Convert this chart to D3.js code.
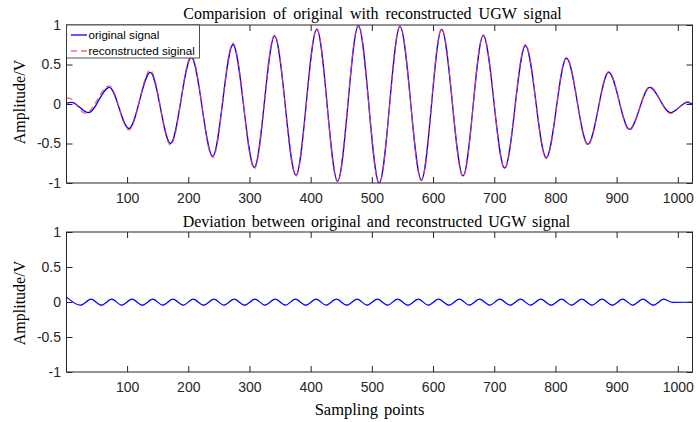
<!DOCTYPE html>
<html>
<head>
<meta charset="utf-8">
<script src="https://cdn.jsdelivr.net/npm/d3@7"></script>
<style>
  html, body { margin: 0; padding: 0; background: #fff; }
  svg { display: block; }
  .tick text { font-family: "Liberation Sans", Arial, sans-serif; font-size: 14px; fill: #262626; }
  .serif { font-family: "Liberation Serif", "Times New Roman", serif; fill: #000; }
</style>
</head>
<body>
<svg id="fig" width="697" height="422"></svg>
<script>
// Sample positions and amplitudes at the turning points of each waveform
const origX = [1, 9, 37, 71, 103, 138, 171, 205, 240, 273, 308, 341, 376, 410, 444, 478, 512, 546, 581, 614, 649, 682, 717, 751, 785, 818, 853, 887, 921, 954, 988, 1016, 1024];
const origY = [0.01, 0.02, -0.11, 0.21, -0.31, 0.40, -0.50, 0.59, -0.66, 0.75, -0.80, 0.86, -0.90, 0.945, -0.975, 0.99, -1.0, 0.98, -0.96, 0.945, -0.91, 0.865, -0.81, 0.74, -0.68, 0.58, -0.51, 0.40, -0.32, 0.21, -0.11, 0.02, 0.0];

const recX = [1, 5, 32, 71, 103, 138, 171, 205, 240, 273, 308, 341, 376, 410, 444, 478, 512, 546, 581, 614, 649, 682, 717, 751, 785, 818, 853, 887, 921, 954, 988, 1016, 1024];
const recY = [0.07, 0.075, -0.12, 0.23, -0.33, 0.43, -0.52, 0.61, -0.68, 0.77, -0.82, 0.875, -0.915, 0.955, -0.985, 1.0, -1.01, 0.99, -0.97, 0.955, -0.92, 0.875, -0.82, 0.755, -0.69, 0.59, -0.52, 0.41, -0.335, 0.22, -0.12, 0.03, 0.02];

const devX = [1, 24, 41, 58, 75, 91, 108, 125, 142, 158, 175, 192, 208, 225, 242, 258, 275, 292, 309, 325, 342, 359, 375, 392, 409, 425, 442, 459, 476, 492, 509, 526, 542, 559, 576, 592, 609, 626, 643, 659, 676, 693, 709, 726, 743, 759, 776, 793, 810, 826, 843, 860, 876, 893, 910, 926, 943, 960, 977, 991, 1024];
const devY = [0.07, -0.045, 0.04, -0.045, 0.04, -0.045, 0.04, -0.045, 0.04, -0.045, 0.04, -0.045, 0.04, -0.045, 0.04, -0.045, 0.04, -0.045, 0.04, -0.045, 0.04, -0.045, 0.04, -0.045, 0.04, -0.045, 0.04, -0.045, 0.04, -0.045, 0.04, -0.045, 0.04, -0.045, 0.04, -0.045, 0.04, -0.045, 0.04, -0.045, 0.04, -0.045, 0.04, -0.045, 0.04, -0.045, 0.04, -0.045, 0.04, -0.045, 0.04, -0.045, 0.04, -0.045, 0.04, -0.045, 0.04, -0.045, 0.04, -0.005, 0.0];

const xTicks = [100, 200, 300, 400, 500, 600, 700, 800, 900, 1000];
const xTickLabels = ["100", "200", "300", "400", "500", "600", "700", "800", "900", "1000"];
const yTicks = [-1, -0.5, 0, 0.5, 1];
const yTickLabels = ["-1", "-0.5", "0", "0.5", "1"];

const topTitle = "Comparision of original with reconstructed UGW signal";
const bottomTitle = "Deviation between original and reconstructed UGW signal";
const yLabel = "Amplitude/V";
const xLabel = "Sampling points";
const legendLabels = ["original signal", "reconstructed siginal"];

const svg = d3.select("#fig");
const left = 66.5, right = 692.5;
const axColor = "#262626";

const x = d3.scaleLinear().domain([1, 1024]).range([left, right]);

function panel(top, bottom, id) {
  const y = d3.scaleLinear().domain([-1, 1]).range([bottom, top]);
  const g = svg.append("g");

  g.append("clipPath").attr("id", id)
    .append("rect").attr("x", left).attr("y", top).attr("width", right - left).attr("height", bottom - top);

  const plot = g.append("g").attr("clip-path", `url(#${id})`);

  const fmtY = d => yTickLabels[yTicks.indexOf(d)];
  const fmtX = d => xTickLabels[xTicks.indexOf(d)];

  // bottom axis with labels, ticks pointing inward
  g.append("g").attr("transform", `translate(0,${bottom})`)
    .call(d3.axisBottom(x).tickValues(xTicks).tickSizeInner(-6).tickSizeOuter(0).tickPadding(10.5).tickFormat(fmtX))
    .call(a => a.select(".domain").remove());
  // top axis, ticks only
  g.append("g").attr("transform", `translate(0,${top})`)
    .call(d3.axisTop(x).tickValues(xTicks).tickSizeInner(-6).tickSizeOuter(0).tickFormat(""))
    .call(a => a.select(".domain").remove());
  // left axis with labels
  g.append("g").attr("transform", `translate(${left},0)`)
    .call(d3.axisLeft(y).tickValues(yTicks).tickSizeInner(-6).tickSizeOuter(0).tickPadding(5.5).tickFormat(fmtY))
    .call(a => a.select(".domain").remove());
  // right axis, ticks only
  g.append("g").attr("transform", `translate(${right},0)`)
    .call(d3.axisRight(y).tickValues(yTicks).tickSizeInner(-6).tickSizeOuter(0).tickFormat(""))
    .call(a => a.select(".domain").remove());

  g.selectAll(".tick line").attr("stroke", axColor);

  g.append("rect").attr("x", left).attr("y", top).attr("width", right - left).attr("height", bottom - top)
    .attr("fill", "none").attr("stroke", axColor).attr("stroke-width", 1);

  return { y, plot, g };
}

const lineOf = (xs, ys, y) => d3.line().x((d, i) => x(xs[i])).y((d, i) => y(ys[i])).curve(d3.curveMonotoneX)(xs);

// upper panel: original vs reconstructed
const p1 = panel(25, 183, "clipTop");
p1.plot.append("path").attr("d", lineOf(origX, origY, p1.y))
  .attr("fill", "none").attr("stroke", "#0000ff").attr("stroke-width", 1.3);
p1.plot.append("path").attr("d", lineOf(recX, recY, p1.y))
  .attr("fill", "none").attr("stroke", "#ff4040").attr("stroke-opacity", 0.8)
  .attr("stroke-width", 1.3).attr("stroke-dasharray", "6,4");

// legend
const lg = svg.append("g");
lg.append("rect").attr("x", left).attr("y", 25).attr("width", 133).attr("height", 33)
  .attr("fill", "#fff").attr("stroke", axColor).attr("stroke-width", 0.8);
lg.append("line").attr("x1", 71).attr("x2", 87).attr("y1", 35).attr("y2", 35)
  .attr("stroke", "#0000ff").attr("stroke-width", 1.3);
lg.append("line").attr("x1", 71).attr("x2", 87).attr("y1", 51).attr("y2", 51)
  .attr("stroke", "#ff4040").attr("stroke-opacity", 0.8).attr("stroke-width", 1.3).attr("stroke-dasharray", "6,4");
lg.selectAll("text.lt").data(legendLabels).join("text")
  .attr("x", 88.5).attr("y", (d, i) => 39 + i * 16)
  .attr("font-family", "Liberation Sans, Arial, sans-serif").attr("font-size", "11.6px").attr("fill", "#000")
  .text(d => d);

// lower panel: deviation
const p2 = panel(232, 372, "clipBottom");
p2.plot.append("path").attr("d", lineOf(devX, devY, p2.y))
  .attr("fill", "none").attr("stroke", "#0000ff").attr("stroke-width", 1.2);

// titles and axis labels
const cx = (left + right) / 2;
svg.append("text").attr("class", "serif").attr("x", cx - 7).attr("y", 19).attr("text-anchor", "middle")
  .attr("font-size", "16px").attr("word-spacing", "3px").text(topTitle);
svg.append("text").attr("class", "serif").attr("x", cx - 3).attr("y", 227).attr("text-anchor", "middle")
  .attr("font-size", "16px").attr("word-spacing", "2px").text(bottomTitle);
svg.append("text").attr("class", "serif").attr("x", cx - 10).attr("y", 415).attr("text-anchor", "middle")
  .attr("font-size", "16.5px").attr("word-spacing", "2px").text(xLabel);
svg.append("text").attr("class", "serif").attr("transform", "translate(25,102) rotate(-90)").attr("text-anchor", "middle")
  .attr("font-size", "16px").text(yLabel);
svg.append("text").attr("class", "serif").attr("transform", "translate(25,303) rotate(-90)").attr("text-anchor", "middle")
  .attr("font-size", "16px").text(yLabel);
</script>
</body>
</html>
